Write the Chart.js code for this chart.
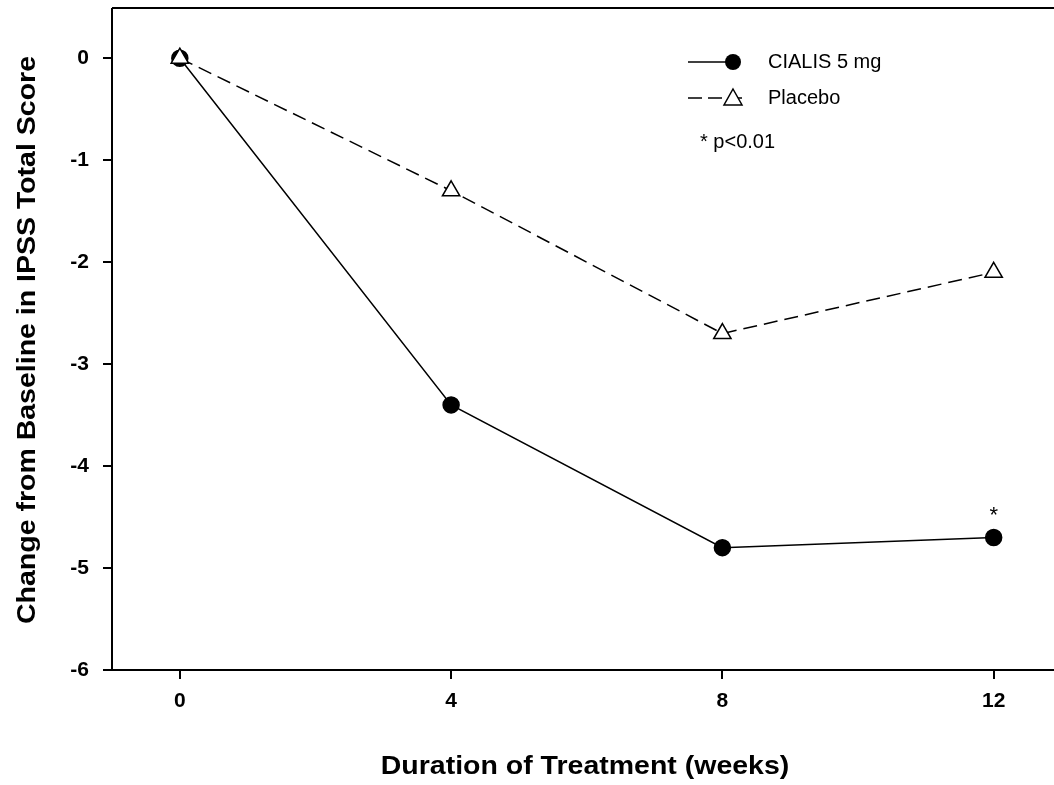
<!DOCTYPE html>
<html><head><style>html,body{margin:0;padding:0;background:#fff;overflow:hidden}</style>
<script src="https://cdn.jsdelivr.net/npm/chart.js@4"></script></head>
<body><div style="width:1054px;height:785px"><canvas id="c"></canvas></div>
<script>
const weeks=[0,4,8,12];
const cialis=[0,-3.4,-4.8,-4.7];
const placebo=[0,-1.3,-2.7,-2.1];
const yTicks=[0,-1,-2,-3,-4,-5,-6];
const F='bold 25px Arial, "Liberation Sans", sans-serif';
const deco={id:'deco',afterDraw(ch){
 const c=ch.ctx,a=ch.chartArea;
 c.save();c.strokeStyle='#000';c.lineWidth=2;
 c.beginPath();c.moveTo(a.left,8);c.lineTo(1054,8);c.moveTo(a.left,8);c.lineTo(a.left,a.top);c.moveTo(a.right,a.bottom);c.lineTo(1054,a.bottom);c.stroke();
 c.fillStyle='#000';c.font=F;c.textAlign='center';c.textBaseline='middle';
 c.save();c.translate(585,767);c.scale(1.14,1);c.fillText('Duration of Treatment (weeks)',0,0);c.restore();
 c.save();c.translate(28,340);c.rotate(-Math.PI/2);c.scale(1.14,1);c.fillText('Change from Baseline in IPSS Total Score',0,0);c.restore();
 c.font='20px Arial, "Liberation Sans", sans-serif';c.textAlign='left';
 c.lineWidth=1.5;
 c.beginPath();c.moveTo(688,62);c.lineTo(732,62);c.stroke();
 c.beginPath();c.arc(733,62,8,0,Math.PI*2);c.fill();
 c.fillText('CIALIS 5 mg',768,62);
 c.setLineDash([14,6]);c.beginPath();c.moveTo(688,98);c.lineTo(748,98);c.stroke();c.setLineDash([]);
 c.fillStyle='#fff';c.beginPath();c.moveTo(733,89);c.lineTo(742,105);c.lineTo(724,105);c.closePath();c.fill();c.stroke();
 c.fillStyle='#000';c.fillText('Placebo',768,98);
 c.fillText('* p<0.01',700,142);
 const x=ch.scales.x.getPixelForValue(12),y=ch.scales.y.getPixelForValue(-4.7);
 c.textAlign='center';c.font='22px Arial';c.fillText('*',x,y-22);
 c.restore();}};
new Chart(document.getElementById('c'),{type:'line',
 data:{datasets:[
  {data:weeks.map((w,i)=>({x:w,y:placebo[i]})),borderColor:'#000',borderWidth:1.5,borderDash:[14,7],pointStyle:'triangle',pointRadius:10,pointBackgroundColor:'#fff',pointBorderColor:'#000',pointBorderWidth:1.5},
  {data:weeks.map((w,i)=>({x:w,y:cialis[i]})),borderColor:'#000',borderWidth:1.5,pointStyle:'circle',pointRadius:8,pointBackgroundColor:'#000',pointBorderColor:'#000'}]},
 options:{responsive:true,maintainAspectRatio:false,animation:false,
  layout:{padding:{top:0,right:0,left:0,bottom:0}},
  plugins:{legend:{display:false},tooltip:{enabled:false}},
  scales:{
   x:{type:'linear',min:-1,max:12.72,afterBuildTicks:s=>{s.ticks=weeks.map(v=>({value:v}))},
    afterFit:s=>{s.height=115},
    grid:{display:true,drawOnChartArea:false,tickLength:9,color:'#000',lineWidth:2},border:{color:'#000',width:2},
    ticks:{color:'#000',font:{size:21,weight:'bold',family:'Arial'},padding:10,maxRotation:0}},
   y:{min:-6,max:0.31,afterBuildTicks:s=>{s.ticks=yTicks.map(v=>({value:v}))},
    afterFit:s=>{s.width=112},
    grid:{display:true,drawOnChartArea:false,tickLength:9,color:'#000',lineWidth:2},border:{color:'#000',width:2},
    ticks:{color:'#000',font:{size:21,weight:'bold',family:'Arial'},padding:14}}}},
 plugins:[deco]});
</script></body></html>
